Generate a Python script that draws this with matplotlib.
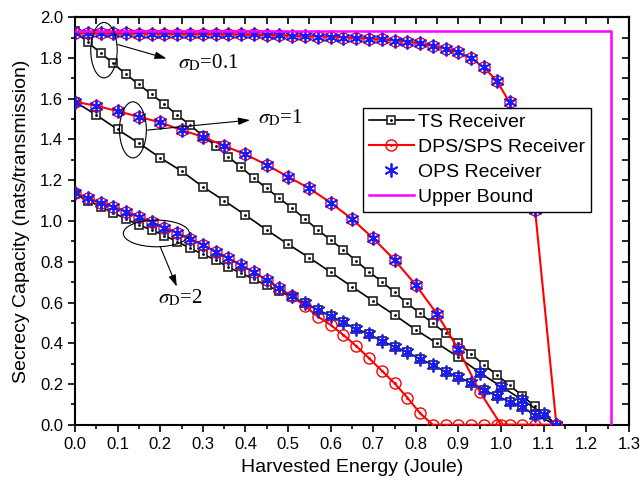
import matplotlib
matplotlib.use("Agg")
import matplotlib.pyplot as plt
from matplotlib.patches import Ellipse
from matplotlib.ticker import MultipleLocator, NullFormatter

# DATOS
x_03 = [0.00, 0.03, 0.06, 0.09, 0.12, 0.15, 0.18, 0.21, 0.24, 0.27, 0.30, 0.33, 0.36,
        0.39, 0.42, 0.45, 0.48, 0.51, 0.54, 0.57, 0.60, 0.63, 0.66, 0.69, 0.72, 0.75,
        0.78, 0.81, 0.84, 0.87, 0.90, 0.93, 0.96, 0.99, 1.02, 1.05, 1.08, 1.13]
x_05 = [0.00, 0.05, 0.10, 0.15, 0.20, 0.25, 0.30, 0.35, 0.40, 0.45, 0.50, 0.55, 0.60,
        0.65, 0.70, 0.75, 0.80, 0.85, 0.90, 0.95, 1.00, 1.05, 1.10, 1.13]

# sigma_D = 0.1
ts_01 = [1.930, 1.876, 1.825, 1.773, 1.719, 1.670, 1.621, 1.572, 1.520, 1.471, 1.418,
         1.369, 1.315, 1.263, 1.210, 1.160, 1.111, 1.062, 1.010, 0.956, 0.907, 0.858,
         0.804, 0.751, 0.703, 0.650, 0.596, 0.547, 0.498, 0.449, 0.400, 0.347, 0.294,
         0.246, 0.194, 0.143, 0.090, 0.000]
x_dps_01 = [0.00, 0.03, 0.06, 0.09, 0.12, 0.15, 0.18, 0.21, 0.24, 0.27, 0.30, 0.33, 0.36,
            0.39, 0.42, 0.45, 0.48, 0.51, 0.54, 0.57, 0.60, 0.63, 0.66, 0.69, 0.72, 0.75,
            0.78, 0.81, 0.84, 0.87, 0.90, 0.93, 0.96, 0.99, 1.02, 1.08, 1.13]
dps_01 = [1.922, 1.921, 1.921, 1.920, 1.920, 1.919, 1.919, 1.918, 1.918, 1.917, 1.917,
          1.916, 1.916, 1.915, 1.915, 1.912, 1.911, 1.908, 1.907, 1.905, 1.904, 1.900,
          1.898, 1.895, 1.891, 1.885, 1.880, 1.871, 1.859, 1.846, 1.827, 1.798, 1.753,
          1.688, 1.582, 1.054, 0.000]
ops_01 = [1.922, 1.921, 1.921, 1.920, 1.920, 1.919, 1.919, 1.918, 1.918, 1.917, 1.917,
          1.916, 1.916, 1.915, 1.915, 1.912, 1.911, 1.908, 1.907, 1.905, 1.904, 1.900,
          1.898, 1.895, 1.891, 1.885, 1.880, 1.871, 1.859, 1.846, 1.827, 1.798, 1.753,
          1.688, 1.582, 1.054, 0.000]

# sigma_D = 1
ts_1 = [1.585, 1.520, 1.449, 1.382, 1.310, 1.245, 1.168, 1.100, 1.029, 0.956, 0.886,
        0.820, 0.749, 0.678, 0.608, 0.539, 0.466, 0.400, 0.332, 0.256, 0.188, 0.123,
        0.052, 0.000]
x_dps_1 = [0.00, 0.05, 0.10, 0.15, 0.20, 0.25, 0.30, 0.35, 0.40, 0.45, 0.50, 0.55, 0.60,
           0.65, 0.70, 0.75, 0.80, 0.85, 0.90, 0.95, 1.00, 1.13]
dps_1 = [1.585, 1.565, 1.539, 1.511, 1.484, 1.446, 1.413, 1.369, 1.327, 1.275, 1.217,
         1.160, 1.090, 1.010, 0.915, 0.809, 0.686, 0.543, 0.370, 0.163, 0.000, 0.000]
ops_1 = [1.585, 1.565, 1.539, 1.511, 1.484, 1.446, 1.413, 1.369, 1.327, 1.275, 1.217,
         1.160, 1.090, 1.010, 0.915, 0.809, 0.686, 0.543, 0.370, 0.256, 0.188, 0.123,
         0.052, 0.000]

# sigma_D = 2
ts_2 = [1.130, 1.100, 1.070, 1.040, 1.010, 0.980, 0.956, 0.928, 0.899, 0.866, 0.837,
        0.809, 0.773, 0.744, 0.714, 0.684, 0.655, 0.625, 0.596, 0.564, 0.534, 0.503,
        0.471, 0.445, 0.412, 0.384, 0.356, 0.324, 0.294, 0.261, 0.234, 0.207, 0.172,
        0.142, 0.114, 0.087, 0.049, 0.000]
dps_2 = [1.137, 1.111, 1.090, 1.070, 1.046, 1.021, 0.995, 0.967, 0.942, 0.913, 0.884,
         0.850, 0.817, 0.784, 0.748, 0.711, 0.670, 0.630, 0.582, 0.531, 0.490, 0.441,
         0.387, 0.327, 0.266, 0.204, 0.134, 0.057, 0.000, 0.000, 0.000, 0.000, 0.000,
         0.000, 0.000, 0.000, 0.000, 0.000]
ops_2 = [1.137, 1.111, 1.090, 1.070, 1.046, 1.021, 0.995, 0.967, 0.942, 0.913, 0.884,
         0.850, 0.817, 0.784, 0.748, 0.711, 0.670, 0.630, 0.596, 0.564, 0.534, 0.503,
         0.471, 0.445, 0.412, 0.384, 0.356, 0.324, 0.294, 0.261, 0.234, 0.207, 0.172,
         0.142, 0.114, 0.087, 0.049, 0.000]

# cota superior
ub_x = [0.0, 1.257, 1.257]
ub_y = [1.933, 1.933, 0.0]

etiquetas = ['TS Receiver', 'DPS/SPS Receiver', 'OPS Receiver', 'Upper Bound']

plt.rcParams['font.family'] = ['Liberation Sans', 'DejaVu Sans']
plt.rcParams['mathtext.fontset'] = 'stix'

fig = plt.figure(figsize=(6.41, 4.90), dpi=100)
ax = fig.add_axes([0.117, 0.133, 0.864, 0.832])

ROJO = '#ff0000'
AZUL = '#1a1aff'
MAGENTA = '#ff00ff'

ts_kw = dict(color='k', lw=1.2, marker='s', ms=6, mfc='white', mec='#222222', mew=1.2, zorder=2)
dps_kw = dict(color=ROJO, lw=1.5, marker='o', ms=8, mfc='none', mec=ROJO, mew=1.0, zorder=3)
ops_kw = dict(ls='none', marker=(6, 2, 0), ms=10, mec=AZUL, mew=1.3, zorder=4)

for xs, ys in [(x_03, ts_01), (x_05, ts_1), (x_03, ts_2)]:
    h_ts, = ax.plot(xs, ys, **ts_kw)
    h_ts_dot, = ax.plot(xs, ys, ls='none', marker='.', ms=2, color='k', zorder=2.1)

for xs, ys in [(x_dps_01, dps_01), (x_dps_1, dps_1), (x_03, dps_2)]:
    h_dps, = ax.plot(xs, ys, **dps_kw)
    h_dps_dot, = ax.plot(xs, ys, ls='none', marker='.', ms=2, color=ROJO, zorder=3.1)

for xs, ys in [(x_dps_01, ops_01), (x_05, ops_1), (x_03, ops_2)]:
    h_ops, = ax.plot(xs, ys, **ops_kw)
    ax.plot(xs, ys, ls='none', marker='o', ms=2.5, color=AZUL, zorder=4.1)

h_ub, = ax.plot(ub_x, ub_y, color=MAGENTA, lw=1.8, zorder=5)

# ejes
ax.set_xlim(0, 1.3)
ax.set_ylim(0, 2.0)
ax.xaxis.set_major_locator(MultipleLocator(0.1))
ax.xaxis.set_minor_locator(MultipleLocator(0.05))
ax.yaxis.set_major_locator(MultipleLocator(0.2))
ax.yaxis.set_minor_locator(MultipleLocator(0.1))
ax.tick_params(which='major', direction='out', length=5, width=1.2, labelsize=12)
ax.tick_params(which='minor', direction='out', length=3, width=1.2)
for s in ax.spines.values():
    s.set_linewidth(1.5)

top = ax.secondary_xaxis('top')
top.xaxis.set_major_locator(MultipleLocator(0.1))
top.xaxis.set_minor_locator(MultipleLocator(0.05))
top.xaxis.set_major_formatter(NullFormatter())
top.tick_params(which='both', direction='in', length=5, width=1.2)
top.spines['top'].set_linewidth(1.5)

der = ax.secondary_yaxis('right')
der.yaxis.set_major_locator(MultipleLocator(0.2))
der.yaxis.set_minor_locator(MultipleLocator(0.1))
der.yaxis.set_major_formatter(NullFormatter())
der.tick_params(which='both', direction='in', length=5, width=1.2)
der.spines['right'].set_linewidth(1.5)

ax.set_xlabel('Harvested Energy (Joule)', fontsize=14, labelpad=5)
ax.set_ylabel('Secrecy Capacity (nats/transmission)', fontsize=14, labelpad=7)

# anotaciones sigma_D
anot = dict(fill=False, lw=0.8, ec='k', zorder=6)
ax.add_patch(Ellipse((0.068, 1.838), 0.062, 0.272, **anot))
ax.add_patch(Ellipse((0.136, 1.447), 0.063, 0.275, **anot))
ax.add_patch(Ellipse((0.191, 0.939), 0.155, 0.131, **anot))

flecha = dict(arrowstyle='-|>,head_length=0.7,head_width=0.22', lw=0.8, color='k',
              shrinkA=0, shrinkB=0)
ax.annotate('', xy=(0.215, 1.797), xytext=(0.100, 1.866), arrowprops=flecha, zorder=6)
ax.annotate('', xy=(0.411, 1.495), xytext=(0.170, 1.446), arrowprops=flecha, zorder=6)
ax.annotate('', xy=(0.239, 0.678), xytext=(0.200, 0.874), arrowprops=flecha, zorder=6)

txt = dict(fontsize=15, family='Liberation Serif', va='baseline', ha='left')
ax.text(0.242, 1.748, r'$\sigma_{\rm D}$=0.1', **txt)
ax.text(0.430, 1.479, r'$\sigma_{\rm D}$=1', **txt)
ax.text(0.196, 0.596, r'$\sigma_{\rm D}$=2', **txt)

leg = ax.legend([(h_ts, h_ts_dot), (h_dps, h_dps_dot), h_ops, h_ub], etiquetas,
                loc='upper left', bbox_to_anchor=(0.520, 0.7775), fontsize=14,
                frameon=True, fancybox=False, framealpha=1, edgecolor='k',
                handlelength=2.3, handletextpad=0.25, borderpad=0.3,
                labelspacing=0.38, borderaxespad=0, numpoints=1)
leg.get_frame().set_linewidth(1.0)
leg.set_zorder(7)

fig.savefig('out.png', dpi=100)
